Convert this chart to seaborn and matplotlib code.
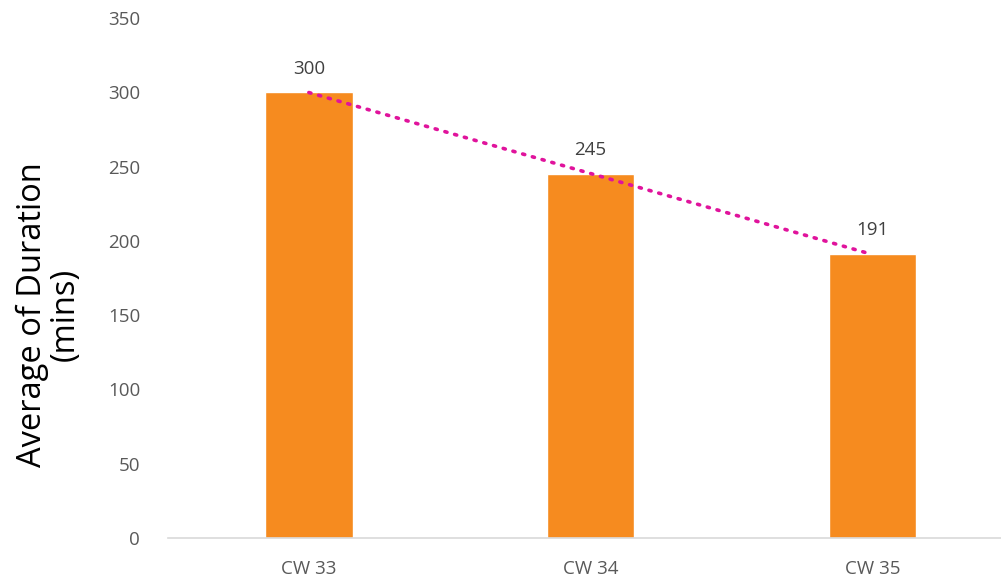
import numpy as np
import pandas as pd
import matplotlib
matplotlib.use("Agg")
import matplotlib.pyplot as plt
import seaborn as sns

# Data
weeks = ["CW 33", "CW 34", "CW 35"]
avg_duration = [300, 245, 191]

sns.set_style("white")
plt.rcParams['font.family'] = ['Open Sans', 'DejaVu Sans']

df = pd.DataFrame({"Week": weeks, "Duration": avg_duration})

fig = plt.figure(figsize=(10.01, 5.80), dpi=100)
ax = fig.add_axes([168 / 1001, 42 / 580, 833 / 1001, 520 / 580])

sns.barplot(data=df, x="Week", y="Duration", color="#F68B1F", saturation=1,
            width=0.31, ax=ax)

# Linear trendline
xs = np.arange(len(weeks))
coef = np.polyfit(xs, avg_duration, 1)
ax.plot(xs, np.polyval(coef, xs), color="#E0139C", linewidth=2.6,
        linestyle=(0, (0.6, 2.2)), dash_capstyle="round")

# Value labels
for i, v in enumerate(avg_duration):
    ax.text(i, v + 16, str(v), ha="center", va="center", fontsize=13.5,
            color="#404040")

ax.set_ylim(0, 350)
ax.set_xlim(-0.5, 2.457)
ax.set_yticks(range(0, 351, 50))
ax.tick_params(axis="y", length=0, pad=20, labelsize=13.5, labelcolor="#595959")
ax.tick_params(axis="x", length=0, pad=16, labelsize=13.5, labelcolor="#595959")
ax.set_xlabel("")
ax.set_ylabel("Average of Duration\n(mins)", fontsize=23.5, color="black",
              linespacing=1.0)
ax.yaxis.set_label_coords(-0.103, 0.429)

for s in ["top", "right", "left"]:
    ax.spines[s].set_visible(False)
ax.spines["bottom"].set_color("#D9D9D9")
ax.spines["bottom"].set_linewidth(1.2)

fig.savefig("out.png", dpi=100)
